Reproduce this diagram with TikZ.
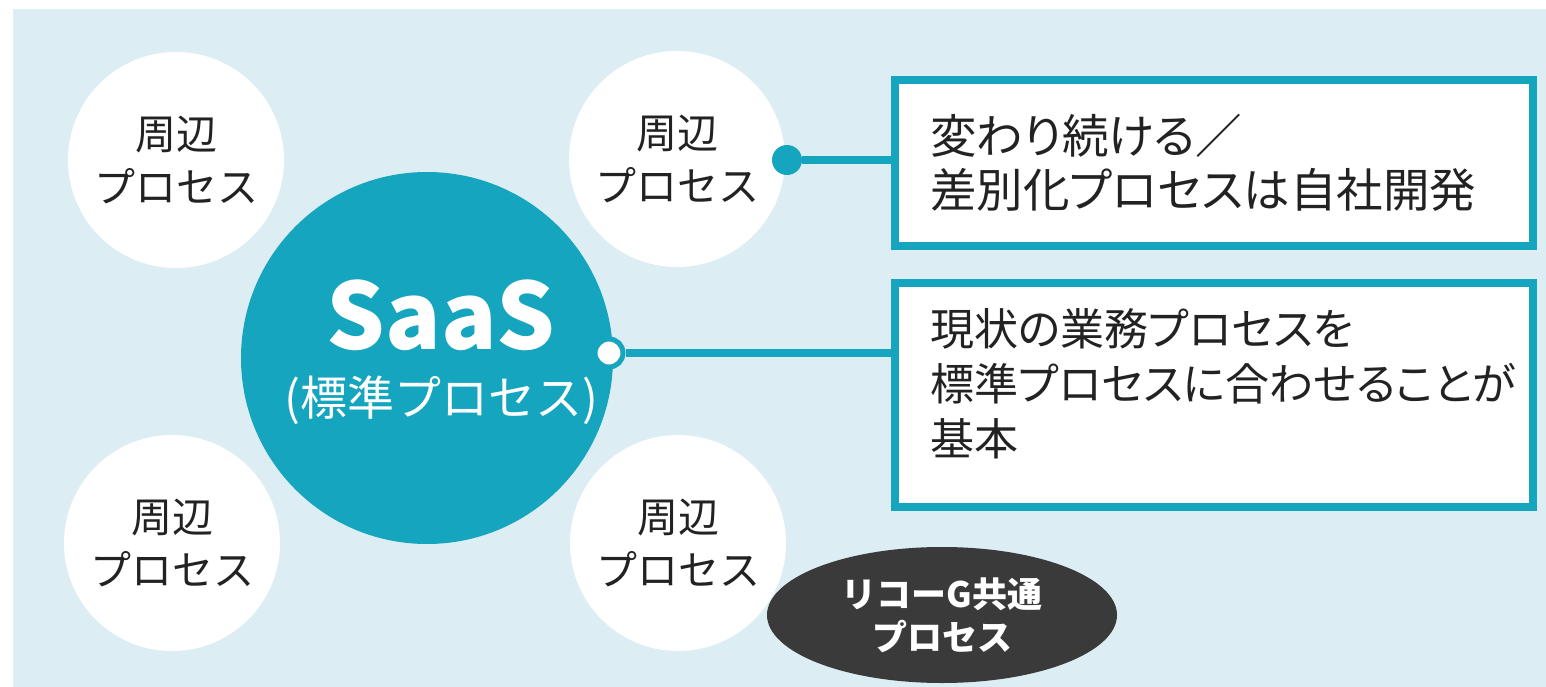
\documentclass[tikz,border=0pt]{standalone}
\usepackage{fontspec}
\setmainfont{Noto Sans CJK JP}
\newfontfamily\jpprop[RawFeature=+palt]{Noto Sans CJK JP}
\usetikzlibrary{shapes.geometric}
\definecolor{tealc}{HTML}{15A5BE}
\definecolor{panelc}{HTML}{DCEEF3}
\definecolor{darkc}{HTML}{3A3A3A}
\definecolor{textc}{HTML}{222222}
\begin{document}
\begin{tikzpicture}[x=1pt,y=-1pt,
  sub/.style={circle, fill=white, minimum size=216pt, inner sep=0pt, align=center,
    text=textc, font=\fontsize{41}{53}\selectfont},
  saascircle/.style={circle, fill=tealc, minimum size=372pt, inner sep=0pt},
  saastext/.style={align=center, text=white, inner sep=0pt},
  box/.style={draw=tealc, line width=8pt, fill=white, minimum width=638pt,
    text width=568pt, inner xsep=35pt, align=left, text=textc,
    font=\jpprop\fontsize{46.5}{54}\selectfont},
  boxtext/.style={anchor=west, align=left, inner sep=0pt, text=textc,
    font=\jpprop\fontsize{44}{55}\selectfont},
  conn/.style={draw=tealc, line width=8pt},
  dotfull/.style={circle, fill=tealc, minimum size=30pt, inner sep=0pt},
  dotopen/.style={circle, fill=white, draw=tealc, line width=5pt, minimum size=28pt, inner sep=0pt},
  common/.style={ellipse, fill=darkc, minimum width=350pt, minimum height=136pt,
    inner sep=0pt, align=center, text=white, font=\fontsize{35}{43}\selectfont\bfseries}
]
\useasboundingbox (0,0) rectangle (1546,687);
\fill[white] (0,0) rectangle (1546,687);
\fill[panelc] (13,9) rectangle (1547,688);

\node[sub] (p1) at (176,160) {周辺\\プロセス};
\node[sub] (p2) at (677,159) {周辺\\プロセス};
\node[sub] (p3) at (172,543) {周辺\\プロセス};
\node[sub] (p4) at (678,543) {周辺\\プロセス};

\node[saascircle] (saas) at (427,358) {};
\node[saastext] (saaslbl) at (441,352) {{\fontsize{92}{92}\selectfont\bfseries SaaS}\\[24pt]{\fontsize{47}{48}\selectfont (標準プロセス)}};

\node[box, minimum height=166pt] (box1) at (1214,163) {変わり続ける／\\差別化プロセスは自社開発};
\node[box, minimum height=224pt] (box2) at (1214,395) {};
\node[boxtext] (t2) at (930,384) {現状の業務プロセスを\\標準プロセスに合わせることが\\基本};

\node[dotfull] (d1) at (787,160) {};
\node[dotopen] (d2) at (609,353) {};
\draw[conn] (d1.east) -- (d1 -| box1.west);
\draw[conn] (d2.east) -- (d2 -| box2.west);

\node[common] (g) at (942,615) {リコーG共通\\プロセス};
\end{tikzpicture}
\end{document}
